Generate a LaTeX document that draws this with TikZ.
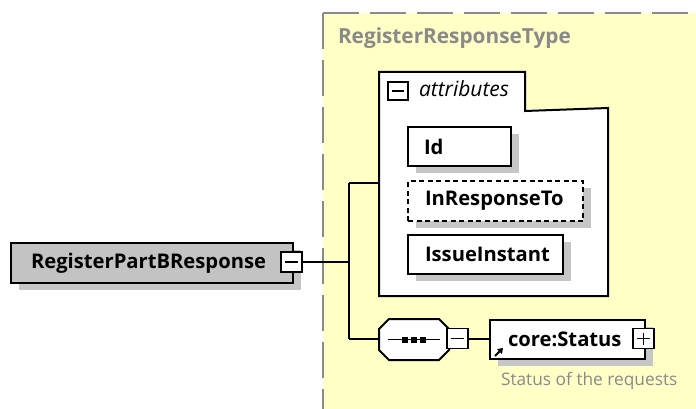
\documentclass[tikz,border=0pt]{standalone}
\usepackage{fontspec}
\setmainfont{Open Sans}
\usetikzlibrary{shadows,arrows.meta,calc}
\definecolor{bgyellow}{HTML}{FFFFC6}
\definecolor{dashgray}{HTML}{8A8A8A}
\definecolor{boxgray}{HTML}{C3C3C3}
\definecolor{shadowgray}{HTML}{C6C6C6}
\definecolor{txtgray}{HTML}{8A8A8A}
\newcommand\elemfont{\fontsize{20.2}{24}\selectfont\bfseries}
\newcommand\titlefont{\fontsize{20.8}{24}\selectfont\bfseries}
\newcommand\notefont{\fontsize{17.3}{20}\selectfont}
\newcommand\attrfont{\fontsize{21}{24}\selectfont\itshape}
\begin{document}
\begin{tikzpicture}[x=1pt,y=-1pt,line width=2pt,
  elemshadow/.style={general shadow={fill=shadowgray,shadow xshift=8pt,shadow yshift=-7pt}},
  elem/.style={draw,line width=2pt,fill=white,anchor=north west,inner ysep=0pt,align=left,font=\elemfont,elemshadow},
  pmbox/.style={draw,fill=white,minimum width=21pt,minimum height=20pt,inner sep=0pt,line width=1.6pt},
  minusbox/.style={pmbox,path picture={\draw[line width=1.5pt]
      ($(path picture bounding box.west)+(4pt,0pt)$) -- ($(path picture bounding box.east)+(-4pt,0pt)$);}},
  plusbox/.style={pmbox,path picture={\draw[line width=1.5pt]
      ($(path picture bounding box.west)+(4pt,0pt)$) -- ($(path picture bounding box.east)+(-4pt,0pt)$)
      ($(path picture bounding box.north)+(0pt,-4pt)$) -- ($(path picture bounding box.south)+(0pt,4pt)$);}},
  conn/.style={draw,line width=2pt}]
\useasboundingbox (0,0) rectangle (696,409);
% type background
\fill[bgyellow] (323,13) rectangle (696,409);
\draw[dashgray,line width=1.8pt,dash pattern=on 36pt off 11pt] (323,13) -- (696,13);
\draw[dashgray,line width=1.8pt,dash pattern=on 36pt off 11pt] (323,13) -- (323,409);
\node[anchor=west,inner sep=0pt,text=txtgray,font=\titlefont] (typename) at (337,38) {RegisterResponseType};
% root element
\node[elem,fill=boxgray,minimum width=282pt,minimum height=40pt,inner xsep=20pt,text width=242pt] (root) at (10,242) {RegisterPartBResponse};
\node[minusbox] (rootm) at (291.5,262) {};
% attributes group
\node[fill=white,anchor=north west,minimum width=144pt,minimum height=37pt,inner sep=0pt] (attrtab) at (379,72) {};
\node[fill=white,anchor=north west,minimum width=227pt,minimum height=186pt,inner sep=0pt] (attrbody) at (379,108) {};
\draw (attrtab.north west) -- (attrtab.north east) -- (attrtab.south east) -- (attrbody.north east)
  -- (attrbody.south east) -- (attrbody.south west) -- cycle;
\node[minusbox,minimum width=20pt,minimum height=18pt] (attrm) at (398,91) {};
\node[anchor=west,inner sep=0pt,font=\attrfont] (attrlbl) at (418,89) {attributes};
\node[elem,minimum width=103pt,minimum height=39pt,inner xsep=16pt,text width=71pt] (id) at (407,126) {Id};
\node[elem,dash pattern=on 5pt off 3.5pt,minimum width=175pt,minimum height=40pt,inner xsep=17pt,text width=141pt] (inresp) at (407,180) {InResponseTo};
\node[elem,minimum width=155pt,minimum height=39pt,inner xsep=17pt,text width=121pt] (issue) at (407,234) {IssueInstant};
% sequence compositor
\node[anchor=north west,minimum width=68pt,minimum height=39pt,inner sep=0pt] (seq) at (379,319) {};
\fill[shadowgray,shift={(8,7)}] ($(seq.north west)+(10,0)$) -- ($(seq.north east)+(-10,0)$) -- ($(seq.north east)+(0,10)$)
  -- ($(seq.south east)+(0,-10)$) -- ($(seq.south east)+(-10,0)$) -- ($(seq.south west)+(10,0)$)
  -- ($(seq.south west)+(0,-10)$) -- ($(seq.north west)+(0,10)$) -- cycle;
\draw[fill=white] ($(seq.north west)+(10,0)$) -- ($(seq.north east)+(-10,0)$) -- ($(seq.north east)+(0,10)$)
  -- ($(seq.south east)+(0,-10)$) -- ($(seq.south east)+(-10,0)$) -- ($(seq.south west)+(10,0)$)
  -- ($(seq.south west)+(0,-10)$) -- ($(seq.north west)+(0,10)$) -- cycle;
\draw[line width=1.5pt] ($(seq.west)+(9,0)$) -- ($(seq.east)+(-9,0)$);
\foreach \dx in {-9,0,9} {\fill ($(seq.center)+(\dx-3,-3)$) rectangle ++(6,6);}
\node[minusbox] (seqm) at (457.5,338.5) {};
% core:Status
\node[elem,minimum width=155pt,minimum height=39pt,inner xsep=18pt,text width=119pt] (core) at (489,319) {core:Status};
\draw[line width=2pt,-{Triangle[length=5pt,width=6.5pt]}] ($(core.south west)+(6pt,4pt)$) -- ++(8pt,8pt);
\node[plusbox] (corep) at (643.5,338.5) {};
\node[anchor=west,inner sep=0pt,text=txtgray,font=\notefont] (coredoc) at (500,381) {Status of the requests};
% connectors
\coordinate (jtop) at (349,183);
\coordinate (jbot) at (349,339);
\draw[conn] (rootm.east) -- (rootm.east -| jtop);
\draw[conn] (jtop) -- (jbot);
\draw[conn] (jtop) -- (jtop -| attrbody.west);
\draw[conn] (jbot) -- (jbot -| seq.west);
\draw[conn] (seqm.east) -- (core.west |- seqm.east);
\end{tikzpicture}
\end{document}
